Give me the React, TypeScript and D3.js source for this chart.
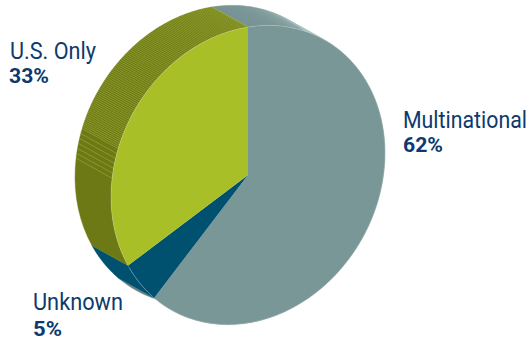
import React from "react";
import * as d3 from "d3";

// Share of companies by reach, clockwise from twelve o'clock
const segments = ["Multinational", "Unknown", "U.S. Only"];
const shares = [62, 5, 33];
const faceColors = ["#7A9797", "#005170", "#A9BF27"];
const wallColors = ["#668486", "#005170", "#6D7914"];
const seamColors = ["#A9C0C0", "#005170", "#B0BE48"];
const seamOpacity = [0.34, 0, 0.5];

const W = 530;
const H = 341;
const cx = 248;
const cy = 175;
// Disc as a sheared ellipse: horizontal reach, vertical reach, shear
const a = 137;
const b = 148;
const shear = -22;
// Extrusion vector from front face to back face
const depth: [number, number] = [-36, -20];

const toRad = (deg: number) => (deg * Math.PI) / 180;
const project = (t: number): [number, number] => [
  cx + a * Math.sin(t),
  cy - b * Math.cos(t) + shear * Math.sin(t),
];

const pie = d3.pie<number>().sort(null).startAngle(0).endAngle(2 * Math.PI);
const arcs = pie(shares);
const unitArc = d3.arc<d3.PieArcDatum<number>>().innerRadius(0).outerRadius(1);
const line = d3.line();

// Angular stops along a wall; the stops tighten where the hatching is fine
function wallStops(start: number, end: number): number[] {
  const stops: number[] = [];
  let t = start;
  while (t < end) {
    stops.push(t);
    const deg = (t * 180) / Math.PI;
    const step = deg > 241 && deg < 275 ? 4 : deg >= 275 && deg < 288 ? 1.9 : 0.72;
    t += toRad(step);
  }
  stops.push(end);
  return stops;
}

const labelFont = "'Roboto', sans-serif";
const labelColor = "#0D3A6E";

export default function App() {
  return (
    <svg
      width={W}
      height={H}
      viewBox={`0 0 ${W} ${H}`}
      style={{ position: "absolute", left: 0, top: 0, background: "#fff" }}
    >
      {arcs.map((d, i) => {
        const stops = wallStops(d.startAngle, d.endAngle);
        const outline = stops.map(project);
        const back = outline.map(([x, y]): [number, number] => [x + depth[0], y + depth[1]]);
        const wall = line([...outline, ...back.slice().reverse()]) + "Z";
        return (
          <g key={segments[i]}>
            <path d={wall} fill={wallColors[i]} stroke={wallColors[i]} strokeWidth={0.4} />
            {i !== 1 &&
              stops.map((t, j) => {
                const deg = (t * 180) / Math.PI;
                const hatched = i === 0 ? deg < 60 : deg > 275;
                if (!hatched) return null;
                const p = project(t);
                return (
                  <line
                    key={j}
                    x1={p[0]}
                    y1={p[1]}
                    x2={p[0] + depth[0]}
                    y2={p[1] + depth[1]}
                    stroke={seamColors[i]}
                    strokeWidth={0.9}
                    strokeOpacity={seamOpacity[i]}
                  />
                );
              })}
          </g>
        );
      })}
      <g transform={`matrix(${a} ${shear} 0 ${b} ${cx} ${cy})`}>
        {arcs.map((d, i) => (
          <path key={segments[i]} d={unitArc(d) ?? ""} fill={faceColors[i]} />
        ))}
      </g>
      {/* Pale rim where the face meets the wall */}
      {arcs.map((d, i) => (
        <path
          key={segments[i]}
          d={line(d3.range(d.startAngle, d.endAngle, toRad(1)).map(project)) ?? ""}
          fill="none"
          stroke="#fff"
          strokeOpacity={0.35}
          strokeWidth={0.6}
        />
      ))}

      <g fontFamily={labelFont} fill={labelColor}>
        <text x={403} y={127.5} fontSize={23} textLength={124} lengthAdjust="spacingAndGlyphs">
          {segments[0]}
        </text>
        <text x={403} y={152} fontSize={21} fontWeight={700} textLength={40} lengthAdjust="spacingAndGlyphs">
          {shares[0]}%
        </text>
        <text x={10} y={58.5} fontSize={23} textLength={86} lengthAdjust="spacingAndGlyphs">
          {segments[2]}
        </text>
        <text x={9} y={83} fontSize={21} fontWeight={700} textLength={40} lengthAdjust="spacingAndGlyphs">
          {shares[2]}%
        </text>
        <text x={33} y={310} fontSize={23} textLength={90} lengthAdjust="spacingAndGlyphs">
          {segments[1]}
        </text>
        <text x={33} y={336} fontSize={21} fontWeight={700} textLength={29} lengthAdjust="spacingAndGlyphs">
          {shares[1]}%
        </text>
      </g>
    </svg>
  );
}
